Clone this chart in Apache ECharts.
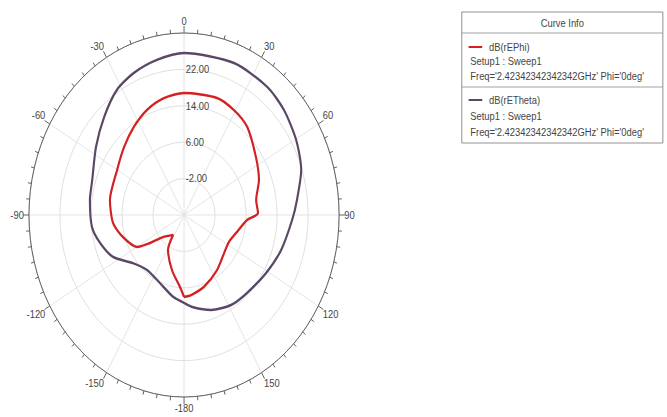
<!DOCTYPE html>
<html>
<head>
<meta charset="utf-8">
<script src="https://cdn.jsdelivr.net/npm/echarts@6/dist/echarts.min.js"></script>
<style>
html,body{margin:0;padding:0;background:#fff;overflow:hidden;width:667px;height:417px;}
#c{width:783px;height:417px;transform:scaleX(0.852);transform-origin:0 0;}
</style>
</head>
<body>
<div id="c"></div>
<script>
// Radial axis: dB values (ring labels), angle labels in degrees
const radialTicks = [-10, -2, 6, 14, 22, 30];
const angleTicks = [0, 30, 60, 90, 120, 150, -180, -150, -120, -90, -60, -30];

// dB(rEPhi) — angle (deg, clockwise from top) and value (dB)
const phiAngles = [-180, -176.3, -165.6, -151.7, -147.2, -131.7, -125.1, -120.1, -107.1, -95.5, -80.2, -60.2, -46.0, -33.7, -22.5, -11.4, 0, 18.3, 29.2, 40.1, 55.5, 68.3, 79.9, 88.7, 93.9, 106.4, 117.1, 128.9, 144.9, 161.9, 174.1, 180];
const phiValues = [8.0, 5.9, 2.5, -1.3, -4.8, -2.7, 0.7, 4.0, 6.5, 8.4, 9.4, 9.9, 11.5, 13.3, 15.0, 16.2, 16.8, 17.1, 16.4, 15.3, 12.5, 10.8, 8.9, 9.1, 6.3, 4.0, 3.0, 3.3, 4.8, 6.6, 7.7, 8.0];

// dB(rETheta)
const thetaAngles = [-180, -171.1, -157.5, -141.7, -128.7, -116.7, -105.9, -96.3, -82.3, -72.0, -56.6, -43.8, -32.2, -22.5, -11.6, 0, 21.1, 37.3, 48.2, 60.3, 71.9, 83.6, 92.3, 107.1, 121.1, 136.5, 148.5, 161.5, 173.4, 180];
const thetaValues = [9.3, 8.2, 6.2, 5.4, 6.9, 10.5, 12.5, 13.9, 14.5, 14.9, 17.2, 19.8, 22.5, 23.8, 24.8, 25.6, 25.8, 25.4, 24.6, 23.3, 21.8, 19.3, 17.9, 16.2, 14.7, 13.6, 13.2, 12.0, 10.4, 9.3];

const seriesNames = ['dB(rEPhi)', 'dB(rETheta)'];
const setupText = 'Setup1 : Sweep1';
const freqText = "Freq='2.42342342342342GHz' Phi='0deg'";
const legendTitle = 'Curve Info';

const rMin = radialTicks[0];
const rMax = radialTicks[radialTicks.length - 1];
const rStep = radialTicks[1] - radialTicks[0];

function toData(angles, values) {
  return angles.map((a, i) => [values[i] - rMin, (a + 360) % 360 === 0 && a === 180 ? 180 : (a + 360) % 360]);
}

const phiColor = '#d42020';
const thetaColor = '#5b4866';
const textColor = '#444';
const font = 'Liberation Sans, Arial, sans-serif';

const chart = echarts.init(document.getElementById('c'), null, {renderer: 'svg'});

const lx = 542, lw = 236, ly = 12, lh = 131;
chart.setOption({
  animation: false,
  backgroundColor: '#fff',
  polar: {center: [216, 215], radius: 182},
  angleAxis: {
    type: 'value', min: 0, max: 360, interval: 30, startAngle: 90, clockwise: true,
    axisLine: {lineStyle: {color: '#555', width: 1}},
    axisTick: {show: true, length: 7, lineStyle: {color: '#555'}},
    minorTick: {show: true, splitNumber: 6, length: 4, lineStyle: {color: '#555'}},
    axisLabel: {
      margin: 6, color: textColor, fontSize: 11, fontFamily: font,
      formatter: v => {
        if (v >= 360) return '';
        const d = v > 180 ? v - 360 : (v === 180 ? -180 : v);
        return angleTicks.indexOf(d) >= 0 ? String(d) : '';
      }
    },
    splitLine: {show: true, lineStyle: {color: '#e2e2e2', width: 1}}
  },
  radiusAxis: {
    type: 'value', min: 0, max: rMax - rMin, interval: rStep,
    axisLine: {show: false}, axisTick: {show: false},
    axisLabel: {
      color: textColor, fontSize: 11, fontFamily: font, margin: -2, align: 'left', verticalAlign: 'middle',
      formatter: v => {
        const d = v + rMin;
        return (d === rMin || d === rMax) ? '' : d.toFixed(2);
      }
    },
    splitLine: {show: true, lineStyle: {color: '#dcdcdc', width: 1}}
  },
  series: [
    {name: seriesNames[1], type: 'line', coordinateSystem: 'polar', showSymbol: false, smooth: 0.25,
     lineStyle: {color: thetaColor, width: 2.5}, data: toData(thetaAngles, thetaValues)},
    {name: seriesNames[0], type: 'line', coordinateSystem: 'polar', showSymbol: false, smooth: 0.25,
     lineStyle: {color: phiColor, width: 2.5}, data: toData(phiAngles, phiValues)}
  ],
  graphic: [
    {type: 'rect', shape: {x: lx, y: ly, width: lw, height: lh}, style: {fill: '#fff', stroke: '#888', lineWidth: 1}},
    {type: 'line', shape: {x1: lx, y1: 33, x2: lx + lw, y2: 33}, style: {stroke: '#999', lineWidth: 1}},
    {type: 'line', shape: {x1: lx, y1: 87, x2: lx + lw, y2: 87}, style: {stroke: '#999', lineWidth: 1}},
    {type: 'text', style: {text: legendTitle, x: 660, y: 23, align: 'center', verticalAlign: 'middle', fill: textColor, fontSize: 11, fontFamily: font}},
    {type: 'line', shape: {x1: 550, y1: 47, x2: 566, y2: 47}, style: {stroke: phiColor, lineWidth: 2}},
    {type: 'text', style: {text: seriesNames[0], x: 574, y: 47, verticalAlign: 'middle', fill: textColor, fontSize: 11, fontFamily: font}},
    {type: 'text', style: {text: setupText, x: 552, y: 61, verticalAlign: 'middle', fill: textColor, fontSize: 11, fontFamily: font}},
    {type: 'text', style: {text: freqText, x: 552, y: 76, verticalAlign: 'middle', fill: textColor, fontSize: 11, fontFamily: font}},
    {type: 'line', shape: {x1: 550, y1: 100, x2: 566, y2: 100}, style: {stroke: thetaColor, lineWidth: 2}},
    {type: 'text', style: {text: seriesNames[1], x: 574, y: 100, verticalAlign: 'middle', fill: textColor, fontSize: 11, fontFamily: font}},
    {type: 'text', style: {text: setupText, x: 552, y: 116, verticalAlign: 'middle', fill: textColor, fontSize: 11, fontFamily: font}},
    {type: 'text', style: {text: freqText, x: 552, y: 132, verticalAlign: 'middle', fill: textColor, fontSize: 11, fontFamily: font}}
  ]
});
</script>
</body>
</html>
